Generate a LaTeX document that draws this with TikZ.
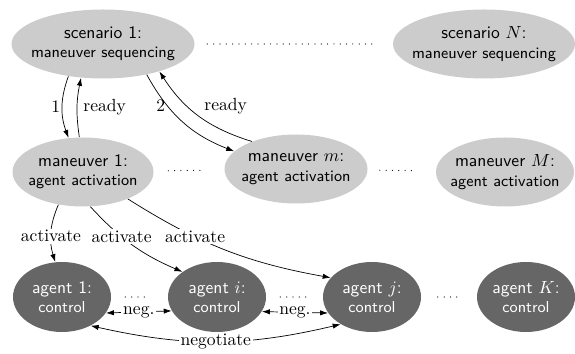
\documentclass[tikz,border=0pt]{standalone}
\usepackage{amsmath}
\usepackage{amssymb}
\usetikzlibrary{shapes,arrows,arrows.meta}
\tikzstyle{task}=[ellipse,fill=black!20,inner sep=0pt,minimum height=1.38cm,font=\sffamily\small,align=center]
\tikzstyle{agent}=[ellipse,fill=black!60,text=white,inner sep=0pt,minimum width=1.96cm,minimum height=1.4cm,font=\sffamily\small,align=center]
\tikzstyle{dotrow}=[line width=0.7pt,dash pattern=on 0pt off 3.6pt,line cap=round]
\tikzstyle{lbl}=[fill=white,inner sep=1pt]
\newcommand{\twoline}[2]{\makebox[0pt]{\normalsize #1}\\\makebox[0pt]{#2}}

\begin{document}
\begin{tikzpicture}[>={Latex[length=4.5pt,width=3pt]}]
\useasboundingbox (0,0) rectangle (11.5,7.08);
\node[task,minimum width=3.66cm] (s1) at (2.06,6.20) {\twoline{scenario 1:}{maneuver sequencing}};
\node[task,minimum width=3.64cm] (sN) at (9.68,6.20) {\twoline{scenario $N$:}{maneuver sequencing}};
\node[task,minimum width=2.82cm] (m1) at (1.66,3.64) {\twoline{maneuver 1:}{agent activation}};
\node[task,minimum width=2.86cm] (mm) at (5.92,3.70) {\twoline{maneuver $m$:}{agent activation}};
\node[task,minimum width=2.76cm] (mM) at (10.10,3.64) {\twoline{maneuver $M$:}{agent activation}};
\node[agent] (a1) at (1.24,1.14) {\twoline{agent 1:}{control}};
\node[agent] (ai) at (4.34,1.14) {\twoline{agent $i$:}{control}};
\node[agent] (aj) at (7.44,1.14) {\twoline{agent $j$:}{control}};
\node[agent] (aK) at (10.52,1.14) {\twoline{agent $K$:}{control}};
% dots between the rows
\draw[dotrow,shorten <=0.25cm,shorten >=0.36cm] (s1) -- (sN);
\draw[dotrow,shorten <=0.29cm,shorten >=0.39cm] (m1) -- (mm);
\draw[dotrow,shorten <=0.24cm,shorten >=0.36cm] (mm) -- (mM);
\draw[dotrow,shorten <=0.28cm,shorten >=0.38cm] (a1) -- (ai);
\draw[dotrow,shorten <=0.28cm,shorten >=0.30cm] (ai) -- (aj);
\draw[dotrow,shorten <=0.33cm,shorten >=0.36cm] (aj) -- (aK);
% scenario <-> maneuver
\draw[->] (s1.223) to[bend right=20] node[left,inner sep=1pt]{1} (m1.113);
\draw[->] (m1.96) to[bend left=10] node[right]{ready} (s1.237);
\draw[->] (s1.325) to[bend right=20] node[pos=0.3,left,inner sep=1pt]{2} (mm.164);
\draw[->] (mm.148) to[bend left=20] node[pos=0.63,right=6pt]{ready} (s1.334);
% maneuver -> agents
\draw[->] (m1.233) to[bend right=20] node[lbl,pos=0.56]{activate} (a1.101);
\draw[->] (m1.282) to[bend right=12] node[lbl,pos=0.37]{activate} (ai.144);
\draw[->] (m1.329) to[bend right=11] node[lbl,pos=0.34]{activate} (aj.155);
% agents
\draw[<->] (a1.340) -- node[lbl]{neg.} (ai.197);
\draw[<->] (ai.342) -- node[lbl]{neg.} (aj.200);
\draw[<->] (a1.315) to[bend right=13] node[lbl]{negotiate} (aj.221);
\end{tikzpicture}
\end{document}
